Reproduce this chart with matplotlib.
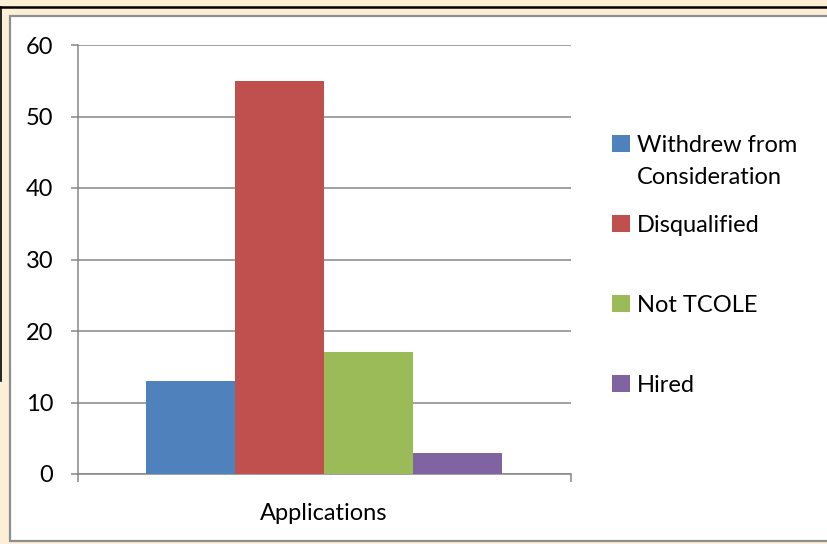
import matplotlib.pyplot as plt
from matplotlib.patches import Rectangle
from matplotlib.lines import Line2D

# chart data
series = ['Withdrew from\nConsideration', 'Disqualified', 'Not TCOLE', 'Hired']
values = [13, 55, 17, 3]
colors = ['#4F81BD', '#C0504D', '#9BBB59', '#8064A2']
category = 'Applications'
yticks = [0, 10, 20, 30, 40, 50, 60]

W, H = 827, 544
plt.rcParams['font.family'] = ['Lato', 'DejaVu Sans']
FS = 17

fig = plt.figure(figsize=(W / 100, H / 100), dpi=100)
fig.patch.set_facecolor('#FCEFD5')

# inner white panel with gray border
fig.add_artist(Rectangle((10 / W, 3 / H), 1.0, (541 - 16) / H,
                         transform=fig.transFigure, facecolor='white',
                         edgecolor='#8E8E8E', linewidth=1.6, zorder=0))
# black frame lines on top and left
fig.add_artist(Line2D([0, 1], [1 - 6.5 / H, 1 - 6.5 / H], transform=fig.transFigure,
                      color='black', linewidth=1.8))
fig.add_artist(Line2D([0.5 / W, 0.5 / W], [0.3, 1 - 6.5 / H], transform=fig.transFigure,
                      color='black', linewidth=1.2))

# axes placement (pixel coords from the picture)
x0, x1 = 77.5, 570.5
y_top, y_bot = 45, 474
ax = fig.add_axes([x0 / W, 1 - y_bot / H, (x1 - x0) / W, (y_bot - y_top) / H])
ax.set_facecolor('none')

bw = 0.181
n = len(values)
for i, (v, c) in enumerate(zip(values, colors)):
    xpos = (i - (n - 1) / 2) * bw
    ax.bar(xpos, v, width=bw, color=c, zorder=3)

ax.set_xlim(-0.5, 0.5)
ax.set_ylim(0, 60)
ax.set_yticks(yticks)
ax.set_yticklabels([str(t) for t in yticks], fontsize=FS)
ax.yaxis.grid(True, color='#868686', linewidth=1.1, zorder=0)
ax.tick_params(axis='y', length=5.4, width=1.1, color='#868686', pad=12)

ax.set_xticks([-0.5, 0.5])
ax.set_xticklabels(['', ''])
ax.tick_params(axis='x', which='major', length=6, width=1.1, color='#868686')
ax.set_xticks([0], minor=True)
ax.set_xticklabels([category], minor=True, fontsize=FS)
ax.tick_params(axis='x', which='minor', length=0, pad=21)

for s in ['top', 'right']:
    ax.spines[s].set_visible(False)
for s in ['left', 'bottom']:
    ax.spines[s].set_color('#868686')
    ax.spines[s].set_linewidth(1.1)

# legend drawn by hand to keep Excel spacing (baseline of first line, px)
leg_base = [151.5, 232, 311.5, 391.5]
line_gap = 32
for lab, c, yy in zip(series, colors, leg_base):
    fig.add_artist(Rectangle((612 / W, 1 - yy / H), 18 / W, 17 / H,
                             transform=fig.transFigure, facecolor=c, edgecolor='none'))
    # multi-line text: baseline alignment uses the last line
    last = yy + line_gap * lab.count('\n')
    fig.text(637 / W, 1 - last / H, lab, fontsize=FS, va='baseline', ha='left',
             linespacing=1.6)

fig.savefig('out.png', dpi=100, facecolor=fig.get_facecolor())
